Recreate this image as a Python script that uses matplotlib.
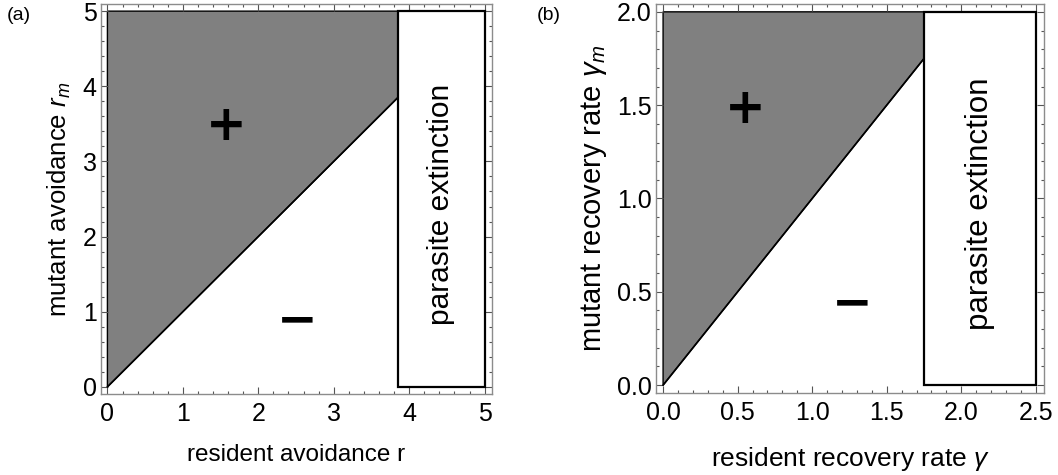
import numpy as np
import matplotlib
matplotlib.use('Agg')
import matplotlib.pyplot as plt
from matplotlib.ticker import MultipleLocator

plt.rcParams['font.family'] = ['Liberation Sans', 'DejaVu Sans']
plt.rcParams['mathtext.fontset'] = 'custom'
plt.rcParams['mathtext.rm'] = 'Liberation Sans'
plt.rcParams['mathtext.it'] = 'Liberation Sans:italic'

# panel (a): avoidance
A_XMAX = 5.0
A_YMAX = 5.0
A_EXT = 3.85        # resident avoidance where the parasite goes extinct
A_PLUS = (1.57, 3.47)
A_MINUS = (2.52, 0.88)

# panel (b): recovery rate
B_XMAX = 2.5
B_YMAX = 2.0
B_EXT = 1.75
B_PLUS = (0.55, 1.48)
B_MINUS = (1.27, 0.44)

FRAME = '#8c8c8c'
FILL = '#808080'


def region_plot(ax, xmax, ymax, ext, plus, minus, pad_x, pad_y, ext_size):
    # invasion region (mutant wins) above the diagonal
    ax.fill([0, ext, ext, 0], [0, ext, ymax, ymax], color=FILL,
            ec='black', lw=1.0, zorder=1)
    ax.plot([0, ext], [0, ext], color='black', lw=1.2, zorder=2)
    # extinction box
    ax.fill([ext, xmax, xmax, ext], [0, 0, ymax, ymax], color='white',
            ec='black', lw=1.6, zorder=2)
    ax.text(plus[0], plus[1], '+', fontsize=35, fontweight='bold',
            family='DejaVu Sans', ha='center', va='center')
    ax.text(minus[0], minus[1], '\u2212', fontsize=35, fontweight='bold',
            family='DejaVu Sans', ha='center', va='center')
    ax.text((ext + xmax) / 2, ymax * 0.487, 'parasite extinction',
            rotation=90, fontsize=ext_size, ha='center', va='center')
    ax.set_xlim(-pad_x * xmax, xmax * (1 + pad_x * 1.15))
    ax.set_ylim(-pad_y * ymax, ymax * (1 + pad_y))
    for s in ax.spines.values():
        s.set_color(FRAME)
        s.set_linewidth(1.0)
    ax.tick_params(which='both', direction='in', top=True, right=True,
                   color='#555555', width=0.8)
    ax.tick_params(which='major', length=5)
    ax.tick_params(which='minor', length=2.5)
    ax.tick_params(axis='x', labelsize=18, pad=6)
    ax.tick_params(axis='y', labelsize=18, pad=3)


fig = plt.figure(figsize=(10.58, 4.75), dpi=100)

ax_a = fig.add_axes([101 / 1058, 81 / 475, 391 / 1058, 390 / 475])
region_plot(ax_a, A_XMAX, A_YMAX, A_EXT, A_PLUS, A_MINUS, 0.017, 0.019, 21.5)
ax_a.xaxis.set_major_locator(MultipleLocator(1))
ax_a.xaxis.set_minor_locator(MultipleLocator(0.2))
ax_a.yaxis.set_major_locator(MultipleLocator(1))
ax_a.yaxis.set_minor_locator(MultipleLocator(0.2))
ax_a.set_xlabel('resident avoidance r', fontsize=17.5, labelpad=13)
ax_a.set_ylabel('mutant avoidance $r_m$', fontsize=18.5, labelpad=7)

ax_b = fig.add_axes([656 / 1058, 82 / 475, 388 / 1058, 389 / 475])
region_plot(ax_b, B_XMAX, B_YMAX, B_EXT, B_PLUS, B_MINUS, 0.019, 0.021, 22.5)
ax_b.xaxis.set_major_locator(MultipleLocator(0.5))
ax_b.xaxis.set_minor_locator(MultipleLocator(0.1))
ax_b.yaxis.set_major_locator(MultipleLocator(0.5))
ax_b.yaxis.set_minor_locator(MultipleLocator(0.1))
ax_b.xaxis.set_major_formatter(lambda v, p: f'{v:.1f}')
ax_b.yaxis.set_major_formatter(lambda v, p: f'{v:.1f}')
ax_b.set_xlabel('resident recovery rate $\\gamma$', fontsize=19, labelpad=14)
ax_b.set_ylabel('mutant recovery rate $\\gamma_m$', fontsize=21, labelpad=6)

fig.text(7 / 1058, 1 - 16 / 475, '(a)', fontsize=14, va='center')
fig.text(537 / 1058, 1 - 16 / 475, '(b)', fontsize=14, va='center')

fig.savefig('out.png', dpi=100)
